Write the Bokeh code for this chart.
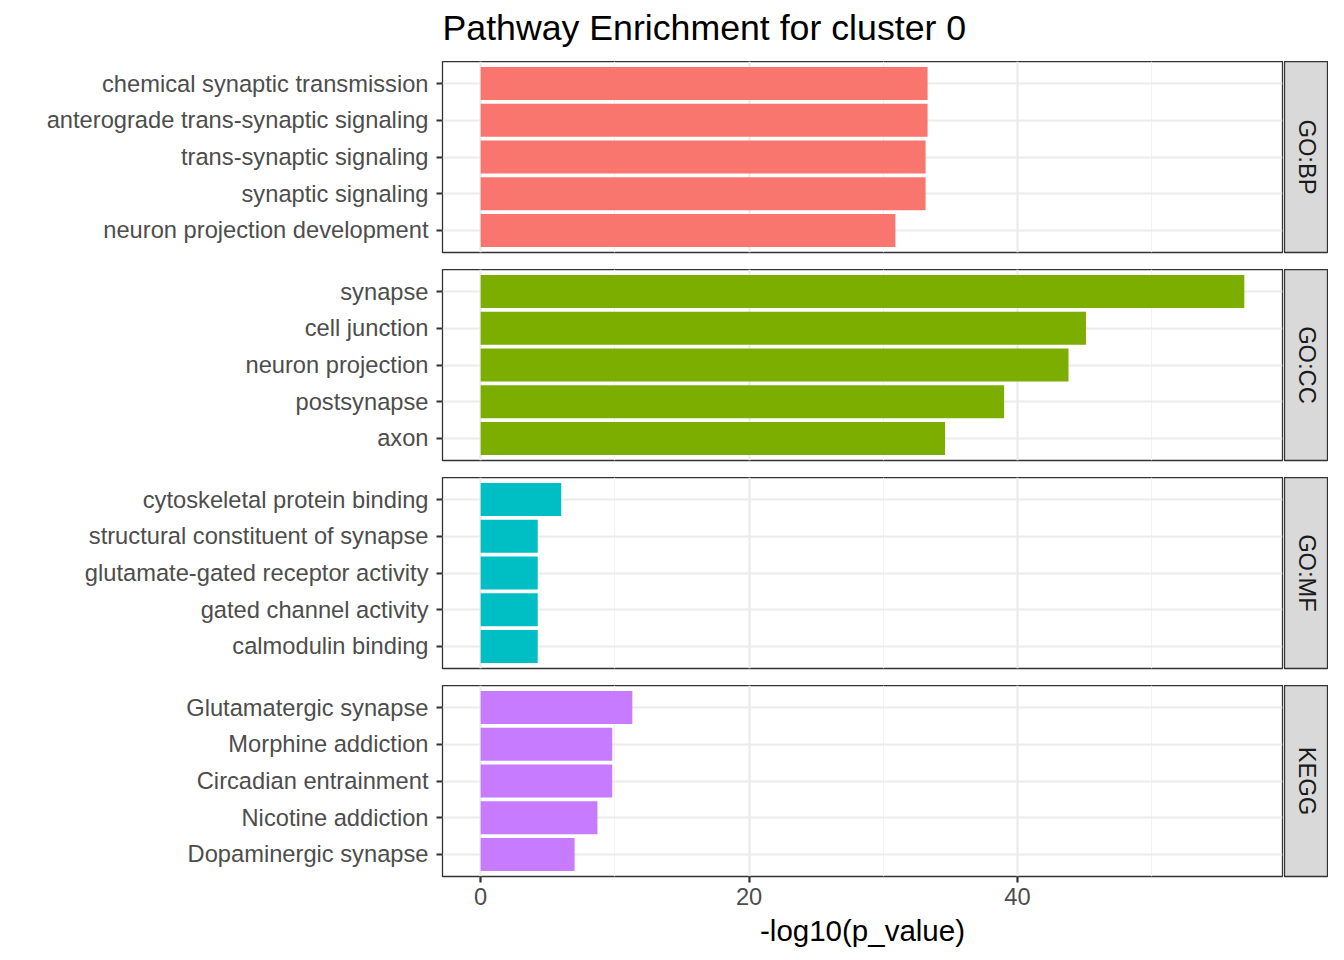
import math
from bokeh.plotting import figure
from bokeh.layouts import column, row
from bokeh.models import FactorRange, Range1d, FixedTicker, ColumnDataSource
from bokeh.core.properties import value
from bokeh.embed import file_html
from bokeh.resources import INLINE

# ---------------- data ----------------
title_text = "Pathway Enrichment for cluster 0"
x_label = "-log10(p_value)"

bp_terms = ["chemical synaptic transmission", "anterograde trans-synaptic signaling",
            "trans-synaptic signaling", "synaptic signaling", "neuron projection development"]
bp_values = [33.3, 33.3, 33.15, 33.15, 30.9]

cc_terms = ["synapse", "cell junction", "neuron projection", "postsynapse", "axon"]
cc_values = [56.9, 45.1, 43.8, 39.0, 34.6]

mf_terms = ["cytoskeletal protein binding", "structural constituent of synapse",
            "glutamate-gated receptor activity", "gated channel activity", "calmodulin binding"]
mf_values = [6.0, 4.25, 4.25, 4.25, 4.25]

kegg_terms = ["Glutamatergic synapse", "Morphine addiction", "Circadian entrainment",
              "Nicotine addiction", "Dopaminergic synapse"]
kegg_values = [11.3, 9.8, 9.8, 8.7, 7.0]

sources = ["GO:BP", "GO:CC", "GO:MF", "KEGG"]
colors = ["#F8766D", "#7CAE00", "#00BFC4", "#C77CFF"]
x_ticks = [0, 20, 40]
x_minor = [10, 30, 50]

panels = [(bp_terms, bp_values), (cc_terms, cc_values),
          (mf_terms, mf_values), (kegg_terms, kegg_values)]

# ---------------- layout constants ----------------
FONT = "Liberation Sans"
LEFT = 442
FRAME_W = 840
FRAME_H = 191
GAP = 17
STRIP_GAP = 2
STRIP_W = 44
TOP = 61
BOTTOM = 84
TICK_FS = "23.7px"

all_vals = bp_values + cc_values + mf_values + kegg_values
xmax = max(all_vals)
xmin = 0.0
pad = 0.05 * (xmax - xmin)
x_range = Range1d(xmin - pad, xmax + pad)

rows = []

# title figure
TW = LEFT + FRAME_W + STRIP_GAP + STRIP_W
tfig = figure(width=TW, height=TOP,
              x_range=Range1d(0, TW), y_range=Range1d(0, TOP),
              output_backend="svg", toolbar_location=None,
              min_border=0, x_axis_location=None, y_axis_location=None)
tfig.outline_line_color = None
tfig.xgrid.visible = False
tfig.ygrid.visible = False
tfig.text(x=[LEFT], y=[TOP - 27], text=[title_text], text_font=value(FONT),
          text_font_size="35.7px", text_color="#000000",
          text_align="left", text_baseline="middle")
rows.append(tfig)

n = len(panels)
for i, ((terms, vals), src, col) in enumerate(zip(panels, sources, colors)):
    last = (i == n - 1)
    mb = BOTTOM if last else GAP
    h = FRAME_H + mb
    factors = list(reversed(terms))
    yr = FactorRange(factors=factors, range_padding=0.1, range_padding_units="absolute")
    p = figure(width=LEFT + FRAME_W + STRIP_GAP, height=h,
               x_range=x_range, y_range=yr,
               output_backend="svg", toolbar_location=None,
               min_border_left=LEFT, min_border_right=STRIP_GAP,
               min_border_top=0, min_border_bottom=mb,
               x_axis_location="below" if last else None)
    ds = ColumnDataSource(dict(term=terms, val=vals))
    p.hbar(y="term", right="val", left=0, height=0.9, source=ds,
           fill_color=col, line_color=None)
    p.outline_line_color = "#333333"
    p.outline_line_width = 1.3
    p.background_fill_color = "white"
    p.border_fill_color = "white"

    p.xgrid.ticker = FixedTicker(ticks=x_ticks, minor_ticks=x_minor)
    p.xgrid.grid_line_color = "#EBEBEB"
    p.xgrid.grid_line_width = 2.2
    p.xgrid.minor_grid_line_color = "#F2F2F2"
    p.xgrid.minor_grid_line_width = 1.1
    p.ygrid.grid_line_color = "#EBEBEB"
    p.ygrid.grid_line_width = 2.2
    p.xgrid.level = "underlay"
    p.ygrid.level = "underlay"

    ya = p.yaxis[0]
    ya.axis_line_color = None
    ya.major_tick_line_color = "#333333"
    ya.major_tick_line_width = 2.2
    ya.major_tick_out = 6
    ya.major_tick_in = 0
    ya.minor_tick_line_color = None
    ya.major_label_text_font = FONT
    ya.major_label_text_font_size = TICK_FS
    ya.major_label_text_color = "#4D4D4D"
    ya.major_label_standoff = 8

    if last:
        xa = p.xaxis[0]
        xa.ticker = FixedTicker(ticks=x_ticks, minor_ticks=[])
        xa.axis_line_color = None
        xa.major_tick_line_color = "#333333"
        xa.major_tick_line_width = 2.2
        xa.major_tick_out = 6
        xa.major_tick_in = 0
        xa.minor_tick_line_color = None
        xa.major_label_text_font = FONT
        xa.major_label_text_font_size = TICK_FS
        xa.major_label_text_color = "#4D4D4D"
        xa.major_label_standoff = 5
        xa.axis_label = x_label
        xa.axis_label_text_font = FONT
        xa.axis_label_text_font_size = "29.5px"
        xa.axis_label_text_font_style = "normal"
        xa.axis_label_text_color = "#000000"
        xa.axis_label_standoff = 6

    s = figure(width=STRIP_W, height=h, x_range=Range1d(0, 1), y_range=Range1d(0, 1),
               output_backend="svg", toolbar_location=None,
               min_border_left=0, min_border_right=0, min_border_top=0,
               min_border_bottom=mb, x_axis_location=None, y_axis_location=None)
    s.xgrid.visible = False
    s.ygrid.visible = False
    s.background_fill_color = "#D9D9D9"
    s.border_fill_color = "white"
    s.outline_line_color = "#333333"
    s.outline_line_width = 1.3
    s.text(x=[0.5], y=[0.5], text=[src], angle=-math.pi / 2,
           text_font=value(FONT), text_font_size=TICK_FS, text_color="#1A1A1A",
           text_align="center", text_baseline="middle")
    rows.append(row(p, s, spacing=0))

layout = column(*rows, spacing=0)
open("out.html", "w").write(file_html(layout, INLINE))
